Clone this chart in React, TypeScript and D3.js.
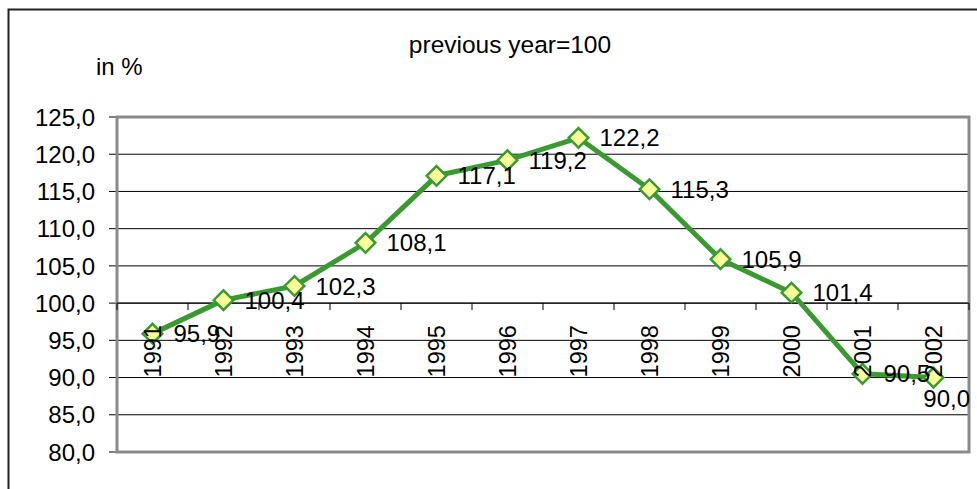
import React from "react";
import * as d3 from "d3";

const years = ["1991","1992","1993","1994","1995","1996","1997","1998","1999","2000","2001","2002"];
const values = [95.9, 100.4, 102.3, 108.1, 117.1, 119.2, 122.2, 115.3, 105.9, 101.4, 90.5, 90.0];
const yTicks = [80, 85, 90, 95, 100, 105, 110, 115, 120, 125];
const title = "previous year=100";
const unitLabel = "in %";

const W = 977, H = 489;
const L = 117, R = 969, T = 117, B = 452;
const FONT = "'Liberation Sans', Arial, sans-serif";
const GREEN = "#3a9a32";

export default function App() {
  const x = d3.scaleBand<string>().domain(years).range([L, R]);
  const y = d3.scaleLinear().domain([80, 125]).range([B, T]);
  const fmt = (v: number) => v.toFixed(1).replace(".", ",");
  const cx = (yr: string) => (x(yr) as number) + x.bandwidth() / 2;
  const line = d3.line<number>().x((_, i) => cx(years[i])).y((v) => y(v));
  const axisY = y(100);
  const diamond = d3.symbol().type(d3.symbolDiamond2).size(245)();

  return (
    <svg width={W} height={H} style={{ position: "absolute", left: 0, top: 0, display: "block", background: "#fff" }} fontFamily={FONT}>
      <path d={`M8.5,${H} L8.5,9.5 L${W},9.5`} fill="none" stroke="#222" strokeWidth={2} />
      <text x={510} y={53} fontSize={24.5} textAnchor="middle">{title}</text>
      <text x={96} y={75} fontSize={24}>{unitLabel}</text>
      {yTicks.map((t) => (
        <g key={t}>
          <line x1={L} x2={R} y1={y(t)} y2={y(t)} stroke="#000" strokeWidth={1} />
          <line x1={109} x2={L} y1={y(t)} y2={y(t)} stroke="#000" strokeWidth={1} />
          <text x={95} y={y(t)} dy="0.36em" fontSize={24} textAnchor="end">{fmt(t)}</text>
        </g>
      ))}
      <rect x={L} y={T} width={R - L} height={B - T} fill="none" stroke="#8a8a8a" strokeWidth={3} />
      <line x1={L} x2={R} y1={axisY} y2={axisY} stroke="#000" strokeWidth={1} />
      {years.map((yr) => (
        <line key={"t" + yr} x1={x(yr) as number} x2={x(yr) as number} y1={axisY} y2={axisY + 7} stroke="#000" strokeWidth={1} />
      ))}
      <line x1={R} x2={R} y1={axisY} y2={axisY + 7} stroke="#000" strokeWidth={1} />
      <path d={line(values) as string} fill="none" stroke={GREEN} strokeWidth={5} strokeLinejoin="round" />
      {values.map((v, i) => (
        <path key={"m" + i} d={diamond as string} transform={`translate(${cx(years[i])},${y(v)})`} fill="#ffff99" stroke={GREEN} strokeWidth={2.5} />
      ))}
      {years.map((yr) => (
        <text key={"y" + yr} transform={`translate(${cx(yr)},${axisY + 22}) rotate(-90)`} dy="0.35em" fontSize={23.5} textAnchor="end">{yr}</text>
      ))}
      {values.map((v, i) => {
        const px = cx(years[i]);
        const py = y(v);
        const w = fmt(v).length * 0.54 * 24;
        if (px + 22 + w > R) {
          return <text key={"l" + i} x={R + 1} y={py + 29} fontSize={24} textAnchor="end">{fmt(v)}</text>;
        }
        return <text key={"l" + i} x={px + 21} y={py} dy="0.36em" fontSize={24}>{fmt(v)}</text>;
      })}
    </svg>
  );
}
